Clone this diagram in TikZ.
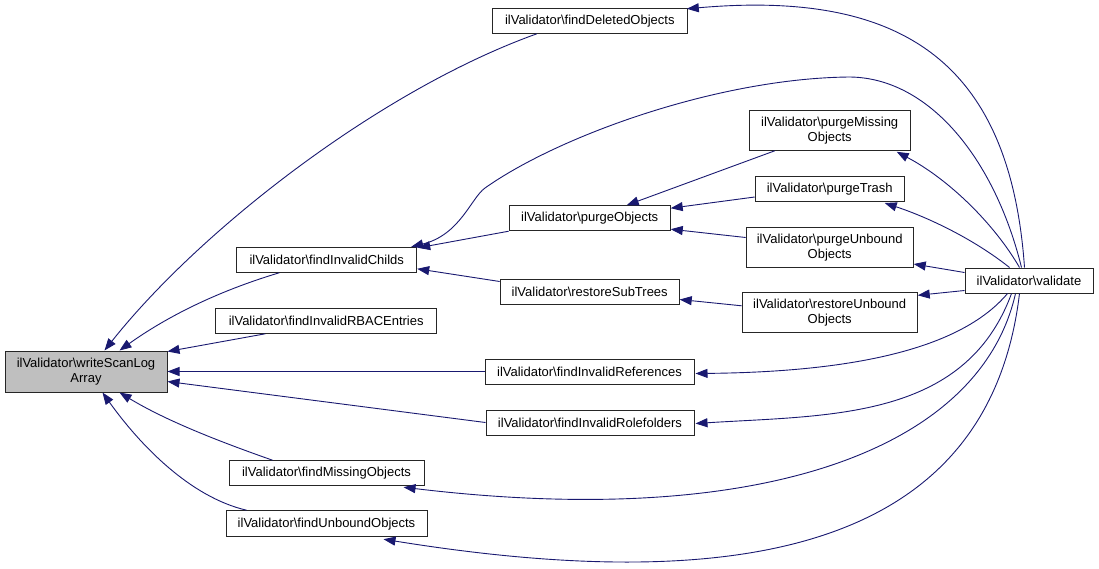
\documentclass[tikz,border=0pt]{standalone}
\usepackage{fontspec}
\setmainfont{Liberation Sans}
\usetikzlibrary{arrows.meta,calc}
\definecolor{edgeblue}{RGB}{25,25,112}
\definecolor{hilite}{RGB}{191,191,191}
\tikzset{
  fn/.style={draw=black!85, line width=1pt, fill=white, inner sep=0pt, align=center,
    font=\fontsize{13}{15}\selectfont, minimum height=25pt},
  fn2/.style={fn, minimum height=40pt},
  edge/.style={draw=edgeblue, line width=0.9pt, -{Triangle[length=12pt,width=9pt]}, color=edgeblue}
}
\begin{document}
\begin{tikzpicture}[x=1pt,y=-1pt]
\useasboundingbox (0,0) rectangle (1099,568);
% nodes
\node[fn2, fill=hilite, minimum width=162pt, minimum height=41pt] (write) at (86,371.5) {ilValidator\textbackslash writeScanLog\\Array};
\node[fn, minimum width=195pt] (fdo) at (589.8,20.8) {ilValidator\textbackslash findDeletedObjects};
\node[fn, minimum width=180pt] (fic) at (326.7,259.8) {ilValidator\textbackslash findInvalidChilds};
\node[fn, minimum width=221pt] (rbac) at (326.2,320.8) {ilValidator\textbackslash findInvalidRBACEntries};
\node[fn, minimum width=195pt] (fmo) at (326.5,473.2) {ilValidator\textbackslash findMissingObjects};
\node[fn, minimum width=201pt, minimum height=26pt] (fuo) at (326.5,523.7) {ilValidator\textbackslash findUnboundObjects};
\node[fn, minimum width=209pt] (refs) at (589.5,371.5) {ilValidator\textbackslash findInvalidReferences};
\node[fn, minimum width=208pt] (rolef) at (590,422.5) {ilValidator\textbackslash findInvalidRolefolders};
\node[fn, minimum width=161pt] (po) at (589.7,218.2) {ilValidator\textbackslash purgeObjects};
\node[fn, minimum width=179pt] (rst) at (589.7,291.5) {ilValidator\textbackslash restoreSubTrees};
\node[fn2, minimum width=161pt] (pmo) at (829.7,130.3) {ilValidator\textbackslash purgeMissing\\Objects};
\node[fn, minimum width=149pt] (ptr) at (829.7,189) {ilValidator\textbackslash purgeTrash};
\node[fn2, minimum width=167pt] (pub) at (829.7,247.5) {ilValidator\textbackslash purgeUnbound\\Objects};
\node[fn2, minimum width=175pt] (rub) at (829.7,312.8) {ilValidator\textbackslash restoreUnbound\\Objects};
\node[fn, minimum width=128pt] (val) at (1029,280.5) {ilValidator\textbackslash validate};
% edges into writeScanLogArray
\draw[edge] ($(fdo.south west)+(45,0)$) .. controls (380,90) and (200,230) .. ($(write.north west)+(100,0)$);
\draw[edge] ($(fic.south west)+(43,0)$) .. controls (215,292) and (165,318) .. ($(write.north west)+(115,0)$);
\draw[edge] ($(rbac.south west)+(50,0)$) -- ($(write.north east)+(0,1)$);
\draw[edge] (refs.west) -- (write.east);
\draw[edge] (rolef.west) -- ($(write.east)+(0,10)$);
\draw[edge] ($(fmo.north west)+(44,0)$) .. controls (215,440) and (165,420) .. ($(write.south west)+(115,0)$);
\draw[edge] ($(fuo.north west)+(21,0)$) .. controls (190,497) and (140,445) .. ($(write.south west)+(98,0)$);
% edges into findInvalidChilds
\draw[edge] (po.south west) -- ($(fic.north east)+(1,1)$);
\draw[edge] ($(rst.west)+(0,-10)$) -- ($(fic.south east)+(0,-4)$);
\draw[edge] ($(val.north west)+(57,0)$) .. controls (995,160) and (930,78) .. (850,77)
   .. controls (720,78) and (560,135) .. (485,188)
   .. controls (471,198) and (460,235) .. ($(fic.north east)+(-6,0)$);
% validate -> findDeletedObjects
\draw[edge] ($(val.north west)+(60,0)$) .. controls (1010,60) and (900,-10) .. ($(fdo.north east)+(-1,1)$);
% into purgeObjects / restoreSubTrees
\draw[edge] ($(pmo.south west)+(26,0)$) -- ($(po.north west)+(118,0)$);
\draw[edge] ($(ptr.west)+(0,8)$) -- ($(po.north east)+(0,3)$);
\draw[edge] ($(pub.west)+(0,-10)$) -- ($(po.south east)+(0,-2)$);
\draw[edge] ($(rub.west)+(0,-7)$) -- ($(rst.east)+(0,8)$);
% from validate
\draw[edge] ($(val.north west)+(55,0)$) .. controls (995,225) and (950,180) .. ($(pmo.south east)+(-14,1)$);
\draw[edge] ($(val.north west)+(45,0)$) .. controls (975,240) and (930,218) .. ($(ptr.south east)+(-20,1)$);
\draw[edge] ($(val.west)+(0,-8)$) -- ($(pub.south east)+(0,-4)$);
\draw[edge] ($(val.west)+(0,10)$) -- ($(rub.north east)+(0,3)$);
\draw[edge] ($(val.south west)+(43,0)$) .. controls (960,350) and (850,372) .. ($(refs.east)+(1,2)$);
\draw[edge] ($(val.south west)+(47,0)$) .. controls (965,420) and (830,415) .. ($(rolef.east)+(1,1)$);
\draw[edge] ($(val.south west)+(51,0)$) .. controls (980,450) and (760,530) .. ($(fmo.south east)+(-21,1)$);
\draw[edge] ($(val.south west)+(55,0)$) .. controls (990,540) and (760,600) .. ($(fuo.south east)+(-44,2)$);
\end{tikzpicture}
\end{document}
